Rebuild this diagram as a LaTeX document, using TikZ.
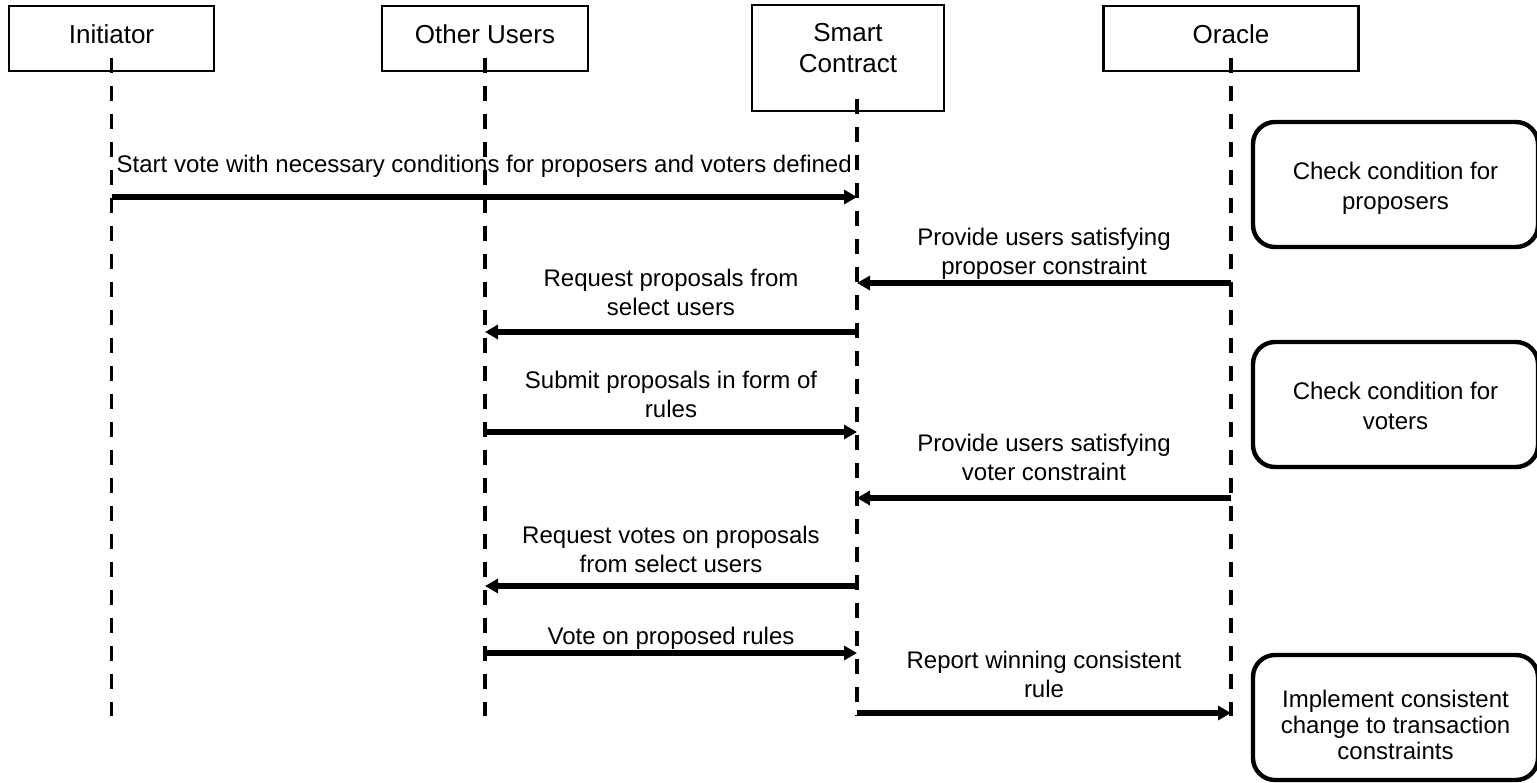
\documentclass[tikz,border=0pt]{standalone}
\usepackage{fontspec}
\setmainfont{Liberation Sans}
\usetikzlibrary{arrows.meta}

\begin{document}
\begin{tikzpicture}[x=0.5pt, y=-0.5pt,
  actor/.style={draw, line width=1.1pt, inner sep=0pt, align=center, text depth=4.5pt, font=\fontsize{13}{15.5}\selectfont},
  lifeline/.style={line width=1.7pt, dash pattern=on 7.5pt off 6.5pt},
  msg/.style={line width=2.6pt, -{Triangle[length=6.5pt, width=7pt]}},
  lbl/.style={inner sep=0pt, text depth=0pt, align=center, font=\fontsize{12}{14.5}\selectfont},
  note/.style={draw, line width=2.2pt, rounded corners=11pt, minimum width=142.5pt, minimum height=62.5pt, align=center, text depth=0pt, text height=25pt, font=\fontsize{12}{15}\selectfont}]

\clip (0,0) rectangle (1537,782);

\node[actor, minimum width=102.5pt, minimum height=32.5pt] (init) at (111.5,38.5) {Initiator};
\node[actor, minimum width=103pt, minimum height=32.5pt] (users) at (485,38.5) {Other Users};
\node[actor, minimum width=96pt, minimum height=53pt, text depth=9.8pt] (sc) at (848,58) {Smart\\Contract};
\node[actor, minimum width=127.5pt, minimum height=32.5pt] (oracle) at (1231,38.5) {Oracle};

\coordinate (init-end) at (111.5,716);
\coordinate (users-end) at (485,716);
\coordinate (sc-end) at (857,716);
\coordinate (oracle-end) at (1231,716);

\draw[lifeline] (init-end |- init.south) ++(0,-14) -- (init-end);
\draw[lifeline] (users-end |- users.south) ++(0,-14) -- (users-end);
\draw[lifeline] (sc-end |- sc.south) ++(0,-13) -- (sc-end);
\draw[lifeline] (oracle-end |- oracle.south) ++(0,-14) -- (oracle-end);

\coordinate (m1) at (0,197);
\coordinate (m2) at (0,283);
\coordinate (m3) at (0,332);
\coordinate (m4) at (0,432);
\coordinate (m5) at (0,498);
\coordinate (m6) at (0,586);
\coordinate (m7) at (0,653);
\coordinate (m8) at (0,713);

\draw[msg] (init-end |- m1) -- node[lbl, above=11pt] {Start vote with necessary conditions for proposers and voters defined} (sc-end |- m1);
\draw[msg] (oracle-end |- m2) -- node[lbl, above=3pt] {Provide users satisfying\\proposer constraint} (sc-end |- m2);
\draw[msg] (sc-end |- m3) -- node[lbl, above=7pt] {Request proposals from\\select users} (users-end |- m3);
\draw[msg] (users-end |- m4) -- node[lbl, above=6pt] {Submit proposals in form of\\rules} (sc-end |- m4);
\draw[msg] (oracle-end |- m5) -- node[lbl, above=7.5pt] {Provide users satisfying\\voter constraint} (sc-end |- m5);
\draw[msg] (sc-end |- m6) -- node[lbl, above=5.5pt] {Request votes on proposals\\from select users} (users-end |- m6);
\draw[msg] (users-end |- m7) -- node[lbl, above=3pt] {Vote on proposed rules} (sc-end |- m7);
\draw[msg] (sc-end |- m8) -- node[lbl, above=6.5pt] {Report winning consistent\\rule} (oracle-end |- m8);

\node[note] (chk-prop) at (1395.5,184.5) {Check condition for\\proposers};
\node[note] (chk-vote) at (1395.5,404.5) {Check condition for\\voters};
\node[note, text height=41.5pt, font=\fontsize{12}{13}\selectfont] (implement) at (1395.5,717.5) {Implement consistent\\change to transaction\\constraints};
\end{tikzpicture}
\end{document}
